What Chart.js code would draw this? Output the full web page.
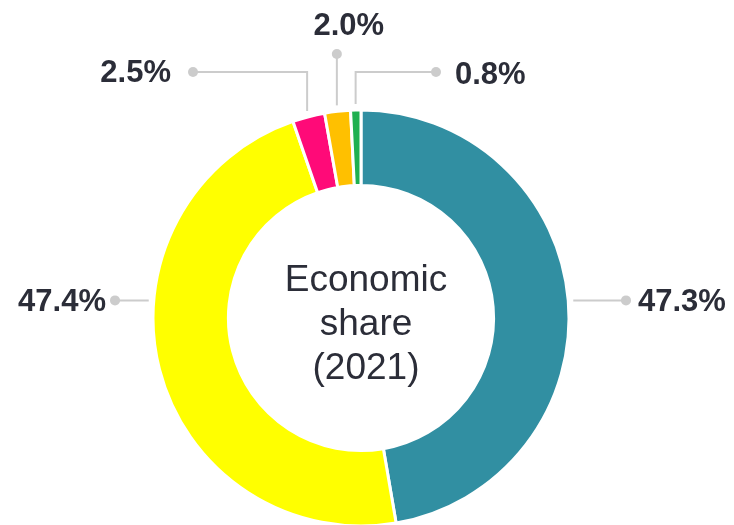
<!DOCTYPE html>
<html>
<head>
<meta charset="utf-8">
<script src="https://cdn.jsdelivr.net/npm/chart.js@4"></script>
<style>
    html, body { margin: 0; padding: 0; background: #ffffff; }
    #wrap { width: 734px; height: 525px; }
</style>
</head>
<body>
<div id="wrap"><canvas id="shareChart" width="734" height="525"></canvas></div>
<script>
// Economic share (2021), clockwise from the top
const sectors = ['A', 'B', 'C', 'D', 'E'];
const shares = [47.3, 47.4, 2.5, 2.0, 0.8];
const sectorColors = ['#318fa2', '#ffff00', '#ff0a78', '#ffc000', '#1fb050'];
const centerLines = ['Economic', 'share', '(2021)'];

const FONT = '"Liberation Sans", Arial, sans-serif';
const TEXT_COLOR = '#2b2d38';
const LEADER_COLOR = '#cccccc';

// Leader lines and value labels drawn on top of the arcs
const leaderLabels = {
    id: 'leaderLabels',
    afterDatasetsDraw(chart) {
        const ctx = chart.ctx;
        const arcs = chart.getDatasetMeta(0).data;
        const cx = arcs[0].x, cy = arcs[0].y;
        const R = arcs[0].outerRadius;

        const dot = (x, y) => {
            ctx.beginPath();
            ctx.arc(x, y, 5, 0, Math.PI * 2);
            ctx.fill();
        };
        const edge = (arc, gap) => {
            const a = (arc.startAngle + arc.endAngle) / 2;
            return { x: cx + Math.cos(a) * (R + gap), y: cy + Math.sin(a) * (R + gap) };
        };

        ctx.save();
        ctx.strokeStyle = LEADER_COLOR;
        ctx.fillStyle = LEADER_COLOR;
        ctx.lineWidth = 2;

        const labels = shares.map(v => v.toFixed(1) + '%');
        const sideY = edge(arcs[0], 0).y;
        const sideX = Math.sqrt(R * R - (sideY - cy) * (sideY - cy));
        const elbowY = cy - R - 38;
        const texts = [];

        // right side
        ctx.beginPath();
        ctx.moveTo(cx + sideX + 5, sideY);
        ctx.lineTo(cx + R + 57, sideY);
        ctx.stroke();
        dot(cx + R + 57, sideY);
        texts.push([labels[0], cx + R + 69, sideY + 11, 'left']);

        // left side
        ctx.beginPath();
        ctx.moveTo(cx - sideX - 5, sideY);
        ctx.lineTo(cx - R - 38, sideY);
        ctx.stroke();
        dot(cx - R - 38, sideY);
        texts.push([labels[1], cx - R - 47, sideY + 11, 'right']);

        // small slice, elbow to the left
        let p = edge(arcs[2], 6);
        ctx.beginPath();
        ctx.moveTo(p.x, p.y);
        ctx.lineTo(p.x, elbowY);
        ctx.lineTo(cx - 168, elbowY);
        ctx.stroke();
        dot(cx - 168, elbowY);
        texts.push([labels[2], cx - 190, elbowY + 10, 'right']);

        // small slice, straight up
        p = edge(arcs[3], 6);
        ctx.beginPath();
        ctx.moveTo(p.x, p.y);
        ctx.lineTo(p.x, cy - R - 56);
        ctx.stroke();
        dot(p.x, cy - R - 56);
        texts.push([labels[3], p.x + 12, cy - R - 75, 'center']);

        // small slice, elbow to the right
        p = edge(arcs[4], 6);
        ctx.beginPath();
        ctx.moveTo(p.x, p.y);
        ctx.lineTo(p.x, elbowY);
        ctx.lineTo(cx + 75, elbowY);
        ctx.stroke();
        dot(cx + 75, elbowY);
        texts.push([labels[4], cx + 94, elbowY + 12, 'left']);

        ctx.fillStyle = TEXT_COLOR;
        ctx.font = 'bold 31px ' + FONT;
        ctx.textBaseline = 'alphabetic';
        texts.forEach(([txt, x, y, align]) => {
            ctx.textAlign = align;
            ctx.fillText(txt, x, y);
        });

        // centre caption (sits a little right of the ring centre)
        ctx.font = '37px ' + FONT;
        ctx.textAlign = 'center';
        centerLines.forEach((line, i) => {
            ctx.fillText(line, cx + 5, cy - 27 + i * 44);
        });
        ctx.restore();
    }
};

new Chart(document.getElementById('shareChart'), {
    type: 'doughnut',
    data: {
        labels: sectors,
        datasets: [{
            data: shares,
            backgroundColor: sectorColors,
            borderColor: '#ffffff',
            borderWidth: 3
        }]
    },
    options: {
        responsive: false,
        animation: false,
        radius: 208,
        cutout: 131,
        layout: {
            padding: { left: 154, right: 166, top: 111, bottom: 0 }
        },
        plugins: {
            legend: { display: false },
            tooltip: { enabled: false }
        }
    },
    plugins: [leaderLabels]
});
</script>
</body>
</html>
